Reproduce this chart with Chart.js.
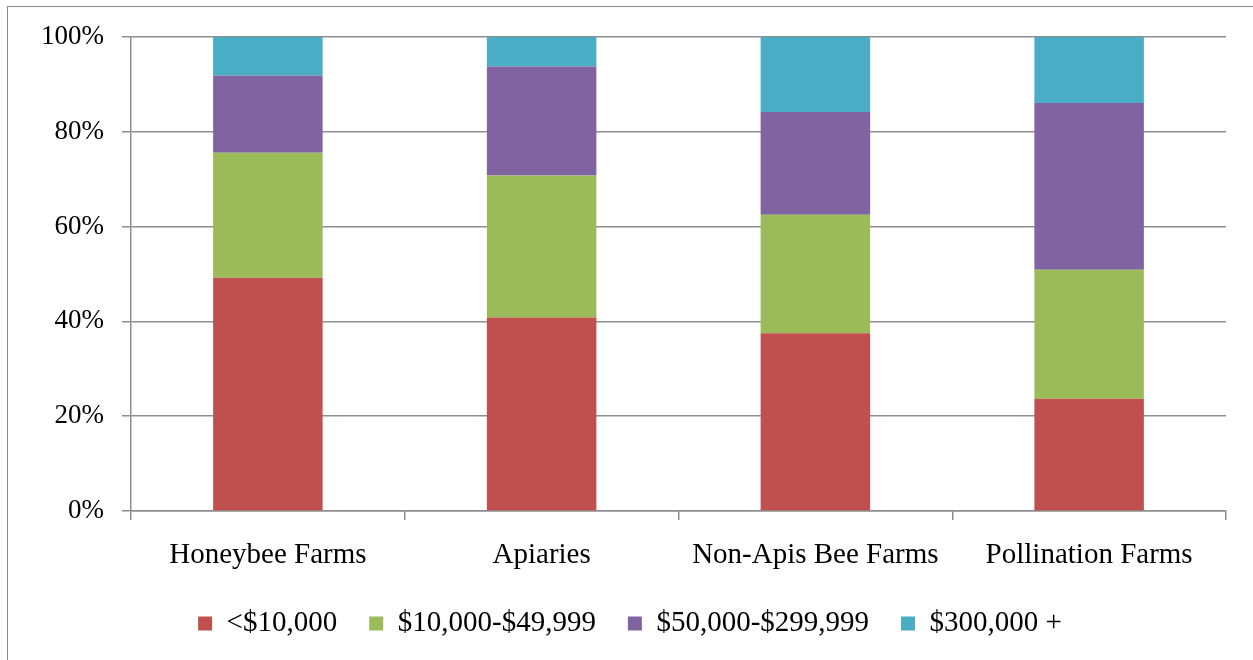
<!DOCTYPE html>
<html>
<head>
<meta charset="utf-8">
<script src="https://cdn.jsdelivr.net/npm/chart.js@4.4.1/dist/chart.umd.min.js"></script>
<style>
  html, body { margin: 0; padding: 0; background: #fff; overflow: hidden; }
  #wrap { position: relative; width: 1253px; height: 660px; }
  #frame { position: absolute; left: 7px; top: 6px; width: 1300px; height: 700px; border: 1.5px solid #8a8a8a; box-sizing: border-box; }
  #cv { position: absolute; left: 0; top: 0; }
</style>
</head>
<body>
<div id="wrap">
  <div id="frame"></div>
  <canvas id="cv" width="1253" height="660"></canvas>
</div>
<script>
const categories = ["Honeybee Farms", "Apiaries", "Non-Apis Bee Farms", "Pollination Farms"];
const seriesNames = ["<$10,000", "$10,000-$49,999", "$50,000-$299,999", "$300,000 +"];
const under10k = [49.2, 40.8, 37.5, 23.7];
const from10kTo50k = [26.4, 30.0, 25.0, 27.2];
const from50kTo300k = [16.3, 23.0, 21.7, 35.2];
const over300k = [8.1, 6.2, 15.8, 13.9];
const yTickValues = [0, 20, 40, 60, 80, 100];

const colors = ["#C0504D", "#9BBB59", "#8064A2", "#4BACC6"];
const seriesValues = [under10k, from10kTo50k, from50kTo300k, over300k];

const gridColor = "#8e8e8e";
const serif = "'Liberation Serif', 'Times New Roman', serif";

new Chart(document.getElementById("cv"), {
  type: "bar",
  data: {
    labels: categories,
    datasets: seriesNames.map((n, i) => ({
      label: n,
      data: seriesValues[i],
      backgroundColor: colors[i],
      borderWidth: 0,
      barPercentage: 0.4,
      categoryPercentage: 1.0
    }))
  },
  options: {
    responsive: false,
    animation: false,
    layout: { padding: { top: 37, right: 27, bottom: 12, left: 34 } },
    plugins: {
      tooltip: { enabled: false },
      legend: {
        position: "bottom",
        labels: {
          font: { family: serif, size: 29 },
          color: "#000",
          boxWidth: 14,
          boxHeight: 14,
          padding: 32
        }
      }
    },
    scales: {
      x: {
        stacked: true,
        grid: { display: true, offset: true, drawOnChartArea: false, drawTicks: true, tickLength: 9, color: gridColor, lineWidth: 1.5 },
        border: { display: true, color: gridColor, width: 1.5 },
        ticks: { font: { family: serif, size: 29 }, color: "#000", padding: 18, maxRotation: 0 },
        afterFit: (s) => { s.height = 66; }
      },
      y: {
        stacked: true,
        min: 0,
        max: 100,
        grid: { color: gridColor, lineWidth: 1.5, tickLength: 9, drawTicks: true },
        border: { display: true, color: gridColor, width: 1.5 },
        afterBuildTicks: (s) => { s.ticks = yTickValues.map(v => ({ value: v })); },
        ticks: {
          font: { family: serif, size: 27 },
          color: "#000",
          padding: 18,
          callback: (v) => v + "%"
        },
        afterFit: (s) => { s.width = 97; }
      }
    }
  }
});
</script>
</body>
</html>
